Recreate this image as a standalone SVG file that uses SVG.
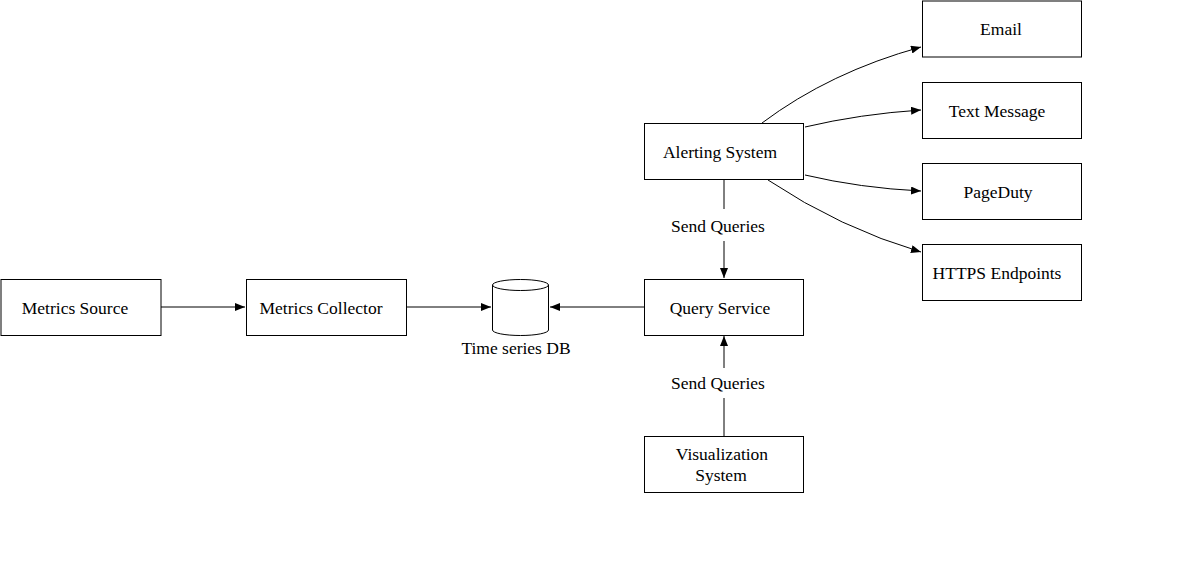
<svg xmlns="http://www.w3.org/2000/svg" width="1198" height="583" viewBox="0 0 1198 583">
<style>
.box{fill:#fff;stroke:#000;stroke-width:1}
.t{font-family:"Liberation Serif","Times New Roman",serif;font-size:17.5px;fill:#000;text-anchor:middle}
.c{fill:none;stroke:#000;stroke-width:1}
</style>
<defs>
<marker id="a" markerWidth="10" markerHeight="8" refX="10" refY="4" orient="auto" markerUnits="userSpaceOnUse">
<path d="M0,0 L10,4 L0,8 Z" fill="#000"/>
</marker>
</defs>
<rect width="1198" height="583" fill="#fff"/>
<g id="connectors">
<path class="c" d="M161,307 H245" marker-end="url(#a)"/>
<path class="c" d="M406,307 H491" marker-end="url(#a)"/>
<path class="c" d="M644,307 H550" marker-end="url(#a)"/>
<path class="c" d="M724,179 V209"/>
<path class="c" d="M724,241 V278" marker-end="url(#a)"/>
<path class="c" d="M724,436 V398"/>
<path class="c" d="M724,368 V336" marker-end="url(#a)"/>
<path class="c" d="M762,123 Q830,72 921,47" marker-end="url(#a)"/>
<path class="c" d="M805,127 Q860,114 921,110" marker-end="url(#a)"/>
<path class="c" d="M805,175 Q860,188 921,191" marker-end="url(#a)"/>
<path class="c" d="M768,180 Q840,228 921,252" marker-end="url(#a)"/>
<text class="t" x="718" y="232">Send Queries</text>
<text class="t" x="718" y="389">Send Queries</text>
</g>
<g id="metrics-source"><rect class="box" x="1" y="279.5" width="160" height="56"/><text class="t" x="75" y="313.5">Metrics Source</text></g>
<g id="metrics-collector"><rect class="box" x="246.5" y="279.5" width="160" height="56"/><text class="t" x="321" y="313.5">Metrics Collector</text></g>
<g id="time-series-db">
<path class="box" d="M492.5,285 A28,5.5 0 0 1 548.5,285 V330 A28,5.5 0 0 1 492.5,330 Z"/>
<path class="c" d="M492.5,285 A28,5.5 0 0 0 548.5,285"/>
<text class="t" x="516" y="353.5">Time series DB</text>
</g>
<g id="query-service"><rect class="box" x="644.5" y="279.5" width="159" height="56"/><text class="t" x="720" y="313.5">Query Service</text></g>
<g id="alerting-system"><rect class="box" x="644.5" y="123.5" width="159" height="56"/><text class="t" x="720" y="157.5">Alerting System</text></g>
<g id="visualization-system"><rect class="box" x="644.5" y="436.5" width="159" height="56"/><text class="t" x="722" y="460">Visualization</text><text class="t" x="721" y="481">System</text></g>
<g id="email"><rect class="box" x="922.5" y="1" width="159" height="56"/><text class="t" x="1001" y="35">Email</text></g>
<g id="text-message"><rect class="box" x="922.5" y="82.5" width="159" height="56"/><text class="t" x="997" y="117">Text Message</text></g>
<g id="pageduty"><rect class="box" x="922.5" y="163.5" width="159" height="56"/><text class="t" x="998" y="198">PageDuty</text></g>
<g id="https-endpoints"><rect class="box" x="922.5" y="244.5" width="159" height="56"/><text class="t" x="997" y="279">HTTPS Endpoints</text></g>
</svg>
